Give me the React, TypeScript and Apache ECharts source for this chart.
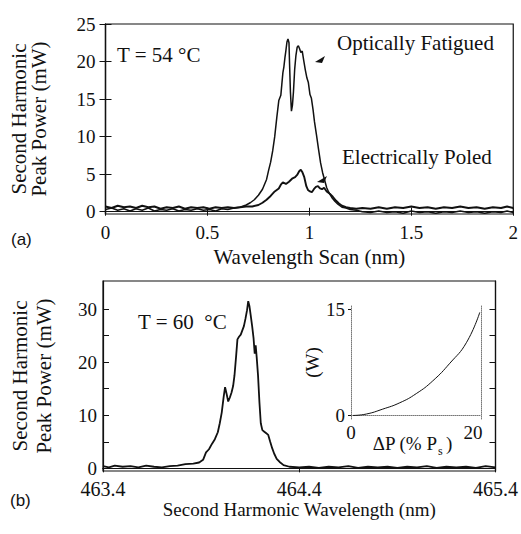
import React, { useEffect, useRef } from "react";
import * as echarts from "echarts";

// ---------- data ----------
const xTicksA = [0, 0.5, 1, 1.5, 2];
const yTicksA = [0, 5, 10, 15, 20, 25];
const xTicksB = [463.4, 464.4, 465.4];
const yLabelsB = [0, 10, 20, 30];
const yTicksB = [0, 5, 10, 15, 20, 25, 30];
const insetXTicks = [0, 20];
const insetYTicks = [0, 15];

const fatiguedData = [
  [0, 0.3], [0.03, 0.5], [0.06, 0.2], [0.09, 0.4], [0.12, 0.1], [0.15, 0.4], [0.18, 0.2], [0.21, 0.5],
  [0.24, 0.1], [0.27, 0.3], [0.3, 0.2], [0.33, 0.4], [0.36, 0.1], [0.39, 0.3], [0.42, 0.2], [0.45, 0.4],
  [0.48, 0.2], [0.51, 0.3], [0.54, 0.1], [0.57, 0.4], [0.6, 0.3], [0.63, 0.5], [0.66, 0.6], [0.69, 0.9],
  [0.71, 1.2], [0.73, 1.6], [0.75, 2.2], [0.77, 3.0], [0.79, 4.3], [0.8, 5.5], [0.81, 6.6], [0.82, 8.1],
  [0.83, 10.0], [0.84, 12.5], [0.85, 14.8], [0.86, 15.5], [0.865, 17.0], [0.87, 18.5], [0.875, 19.3],
  [0.88, 20.5], [0.885, 21.5], [0.89, 22.6], [0.895, 23.0], [0.9, 22.5], [0.903, 19.5], [0.907, 16.0],
  [0.912, 13.4], [0.917, 14.2], [0.922, 16.0], [0.928, 19.0], [0.934, 20.8], [0.94, 21.9], [0.946, 22.1],
  [0.952, 21.7], [0.958, 21.2], [0.965, 21.4], [0.972, 20.2], [0.98, 18.9], [0.988, 17.8], [0.995, 17.2],
  [1.003, 15.6], [1.01, 15.1], [1.018, 13.6], [1.025, 12.0], [1.035, 10.2], [1.045, 8.3], [1.055, 6.5],
  [1.065, 5.2], [1.075, 4.2], [1.085, 3.2], [1.095, 2.6], [1.11, 1.9], [1.125, 1.4], [1.14, 1.0],
  [1.16, 0.6], [1.18, 0.5], [1.2, 0.3], [1.23, 0.2], [1.26, 0.0], [1.3, -0.1], [1.34, 0.1], [1.38, -0.1],
  [1.42, 0.0], [1.46, -0.2], [1.5, 0.1], [1.54, -0.1], [1.58, 0.0], [1.62, -0.2], [1.66, 0.0], [1.7, -0.1],
  [1.74, 0.1], [1.78, -0.1], [1.82, 0.0], [1.86, -0.2], [1.9, 0.0], [1.94, -0.1], [1.97, 0.1], [2, -0.1],
];

const poledData = [
  [0, 0.7], [0.03, 0.5], [0.06, 0.8], [0.09, 0.6], [0.12, 0.7], [0.15, 0.5], [0.18, 0.8], [0.21, 0.6],
  [0.24, 0.7], [0.27, 0.4], [0.3, 0.6], [0.33, 0.5], [0.36, 0.7], [0.39, 0.4], [0.42, 0.6], [0.45, 0.5],
  [0.48, 0.6], [0.51, 0.4], [0.54, 0.6], [0.57, 0.5], [0.6, 0.6], [0.63, 0.5], [0.66, 0.6], [0.69, 0.7],
  [0.72, 0.7], [0.75, 0.9], [0.77, 1.2], [0.79, 1.6], [0.81, 2.1], [0.83, 2.7], [0.85, 3.1], [0.86, 3.6],
  [0.87, 3.9], [0.885, 3.7], [0.9, 4.0], [0.915, 4.4], [0.93, 4.6], [0.94, 4.9], [0.95, 5.4], [0.958, 5.6],
  [0.965, 5.3], [0.975, 4.6], [0.985, 3.4], [0.993, 2.9], [1.003, 2.7], [1.012, 2.6], [1.022, 3.0],
  [1.032, 3.3], [1.042, 3.4], [1.052, 3.1], [1.062, 3.0], [1.072, 3.2], [1.085, 2.7], [1.1, 2.4],
  [1.115, 2.0], [1.13, 1.5], [1.145, 1.1], [1.16, 0.8], [1.18, 0.6], [1.2, 0.5], [1.23, 0.4],
  [1.26, 0.5], [1.3, 0.4], [1.34, 0.6], [1.38, 0.4], [1.42, 0.6], [1.46, 0.5], [1.5, 0.7], [1.54, 0.5],
  [1.58, 0.6], [1.62, 0.4], [1.66, 0.6], [1.7, 0.5], [1.74, 0.7], [1.78, 0.5], [1.82, 0.6], [1.86, 0.4],
  [1.9, 0.6], [1.94, 0.5], [1.97, 0.7], [2, 0.5],
];

const spectrumB = [
  [463.4, 0.4], [463.43, 0.2], [463.46, 0.5], [463.5, 0.3], [463.54, 0.4], [463.58, 0.2], [463.62, 0.5],
  [463.66, 0.3], [463.7, 0.2], [463.74, 0.4], [463.78, 0.5], [463.82, 0.8], [463.86, 0.9], [463.89, 1.1],
  [463.91, 1.6], [463.925, 3.0], [463.94, 3.6], [463.955, 4.6], [463.97, 5.5], [463.985, 6.8],
  [463.995, 8.5], [464.005, 10.5], [464.015, 13.5], [464.022, 15.3], [464.03, 14.0], [464.038, 12.6],
  [464.046, 13.3], [464.055, 14.3], [464.063, 15.5], [464.07, 17.5], [464.078, 21.0], [464.085, 24.3],
  [464.093, 24.8], [464.102, 25.2], [464.11, 26.0], [464.118, 26.8], [464.126, 28.2], [464.134, 29.8],
  [464.14, 31.5], [464.146, 30.6], [464.152, 29.0], [464.16, 26.8], [464.167, 24.6], [464.173, 21.6],
  [464.178, 23.2], [464.183, 21.0], [464.19, 17.5], [464.197, 12.5], [464.204, 8.5], [464.212, 7.2],
  [464.222, 6.9], [464.232, 6.6], [464.242, 6.3], [464.252, 5.0], [464.262, 3.8], [464.272, 2.8],
  [464.285, 1.8], [464.3, 1.2], [464.32, 0.6], [464.35, 0.3], [464.4, 0.2], [464.45, 0.3], [464.5, 0.1],
  [464.55, 0.3], [464.6, 0.2], [464.65, 0.4], [464.7, 0.1], [464.75, 0.3], [464.8, 0.2], [464.85, 0.3],
  [464.9, 0.1], [464.95, 0.3], [465.0, 0.2], [465.05, 0.4], [465.1, 0.1], [465.15, 0.3], [465.2, 0.2],
  [465.25, 0.3], [465.3, 0.1], [465.35, 0.4], [465.4, 0.2],
];

const insetData = [
  [0.3, 0], [2.5, 0.2], [5.2, 0.9], [8, 1.8], [10.7, 3.1], [13.4, 4.9], [16.2, 7.4], [18.9, 10.3], [21.1, 14.6],
];

// ---------- styling helpers ----------
const SERIF = "Liberation Serif";
const SANS = "Liberation Sans";
const INK = "#111";

const frameLine = { show: true, lineStyle: { color: INK, width: 1.2 } };

const txt = (text: string, x: number, y: number, size: number, family: string, align = "left") => ({
  type: "text",
  x,
  y,
  style: { text, fontSize: size, fontFamily: family, fill: INK, align, verticalAlign: "middle" },
});

export default function App() {
  const ref = useRef<HTMLDivElement>(null);

  useEffect(() => {
    if (!ref.current) return;
    const chart = echarts.init(ref.current, undefined, { renderer: "svg" });

    const option = {
      animation: false,
      backgroundColor: "#fff",
      textStyle: { fontFamily: SERIF, color: INK },
      grid: [
        { left: 104, top: 24, width: 413, height: 190, show: true, borderColor: INK, borderWidth: 1.2 },
        { left: 99, top: 281, width: 408, height: 190, show: true, borderColor: INK, borderWidth: 1.2 },
        { left: 351, top: 306, width: 130, height: 113, show: false },
      ],
      xAxis: [
        {
          gridIndex: 0, type: "value", min: 0, max: 2, position: "bottom",
          axisLine: frameLine,
          axisTick: { inside: true, length: 4, customValues: xTicksA, lineStyle: { color: INK } },
          axisLabel: { customValues: xTicksA, fontSize: 19, fontFamily: SERIF, color: INK, margin: 9, formatter: (v: number) => String(v) },
          splitLine: { show: false },
          name: "Wavelength Scan (nm)", nameLocation: "middle", nameGap: 32,
          nameTextStyle: { fontSize: 21, fontFamily: SERIF, color: INK },
        },
        {
          gridIndex: 0, type: "value", min: 0, max: 2, position: "top",
          axisLine: frameLine,
          axisTick: { inside: true, length: 4, customValues: xTicksA, lineStyle: { color: INK } },
          axisLabel: { show: false }, splitLine: { show: false },
        },
        {
          gridIndex: 1, type: "value", min: 463.4, max: 465.4, position: "bottom",
          axisLine: frameLine,
          axisTick: { show: false },
          axisLabel: { customValues: xTicksB, fontSize: 20, fontFamily: SERIF, color: INK, margin: 8, formatter: (v: number) => v.toFixed(1) },
          splitLine: { show: false },
          name: "Second Harmonic Wavelength (nm)", nameLocation: "middle", nameGap: 22,
          nameTextStyle: { fontSize: 19, fontFamily: SERIF, color: INK },
        },
        {
          gridIndex: 1, type: "value", min: 463.4, max: 465.4, position: "top",
          axisLine: frameLine,
          axisTick: { inside: true, length: 4, customValues: xTicksB, lineStyle: { color: INK } },
          axisLabel: { show: false }, splitLine: { show: false },
        },
        {
          gridIndex: 2, type: "value", min: 0, max: 21.3, position: "bottom",
          axisLine: { show: true, lineStyle: { color: "#777", width: 1, type: "dotted" } },
          axisTick: { show: false },
          axisLabel: { customValues: insetXTicks, fontSize: 19, fontFamily: SERIF, color: INK, margin: 4 },
          splitLine: { show: false },
        },
      ],
      yAxis: [
        {
          gridIndex: 0, type: "value", min: -0.3, max: 25, position: "left",
          axisLine: frameLine,
          axisTick: { inside: true, length: 6, customValues: yTicksA, lineStyle: { color: INK } },
          axisLabel: { customValues: yTicksA, fontSize: 19, fontFamily: SERIF, color: INK, margin: 10 },
          splitLine: { show: false },
          name: "Second Harmonic\nPeak Power (mW)", nameLocation: "middle", nameRotate: 90, nameGap: 57,
          nameTextStyle: { fontSize: 21, lineHeight: 20, fontFamily: SERIF, color: INK, align: "center" },
        },
        {
          gridIndex: 0, type: "value", min: -0.3, max: 25, position: "right",
          axisLine: frameLine,
          axisTick: { inside: true, length: 6, customValues: yTicksA, lineStyle: { color: INK } },
          axisLabel: { show: false }, splitLine: { show: false },
        },
        {
          gridIndex: 1, type: "value", min: -0.5, max: 35.3, position: "left",
          axisLine: frameLine,
          axisTick: { inside: true, length: 6, customValues: yTicksB, lineStyle: { color: INK } },
          axisLabel: { customValues: yLabelsB, fontSize: 19, fontFamily: SERIF, color: INK, margin: 6 },
          splitLine: { show: false },
          name: "Second Harmonic\nPeak Power (mW)", nameLocation: "middle", nameRotate: 90, nameGap: 47,
          nameTextStyle: { fontSize: 21, lineHeight: 24, fontFamily: SERIF, color: INK, align: "center" },
        },
        {
          gridIndex: 1, type: "value", min: -0.5, max: 35.3, position: "right",
          axisLine: frameLine,
          axisTick: { inside: true, length: 6, customValues: yTicksB, lineStyle: { color: INK } },
          axisLabel: { show: false }, splitLine: { show: false },
        },
        {
          gridIndex: 2, type: "value", min: -0.5, max: 15.5, position: "left",
          axisLine: { show: true, lineStyle: { color: "#777", width: 1, type: "dotted" } },
          axisTick: { show: true, inside: false, length: 3, customValues: insetYTicks, lineStyle: { color: INK } },
          axisLabel: { customValues: insetYTicks, fontSize: 19, fontFamily: SERIF, color: INK, margin: 6 },
          splitLine: { show: false },
          name: "(W)", nameLocation: "middle", nameRotate: 90, nameGap: 9,
          nameTextStyle: { fontSize: 19, fontFamily: SERIF, color: INK },
        },
        {
          gridIndex: 2, type: "value", min: -0.5, max: 15.5, position: "right",
          axisLine: { show: true, lineStyle: { color: "#777", width: 1, type: "dotted" } },
          axisTick: { show: false }, axisLabel: { show: false }, splitLine: { show: false },
        },
      ],
      series: [
        {
          name: "Optically Fatigued", type: "line", xAxisIndex: 0, yAxisIndex: 0,
          data: fatiguedData, showSymbol: false, clip: false,
          lineStyle: { color: INK, width: 1.5 },
        },
        {
          name: "Electrically Poled", type: "line", xAxisIndex: 0, yAxisIndex: 0,
          data: poledData, showSymbol: false, clip: false,
          lineStyle: { color: INK, width: 1.9 },
        },
        {
          name: "Spectrum (b)", type: "line", xAxisIndex: 2, yAxisIndex: 2,
          data: spectrumB, showSymbol: false, clip: false,
          lineStyle: { color: INK, width: 1.8 },
        },
        {
          name: "Inset", type: "line", xAxisIndex: 4, yAxisIndex: 4,
          data: insetData, showSymbol: false, smooth: true,
          lineStyle: { color: INK, width: 1 },
        },
      ],
      graphic: [
        txt("T = 54 °C", 117, 55, 21, SERIF),
        txt("Optically Fatigued", 337, 43, 21, SERIF),
        txt("Electrically Poled", 342, 157, 21, SERIF),
        txt("T = 60  °C", 138, 322, 21, SERIF),
        txt("(a)", 11, 239, 17, SANS),
        txt("(b)", 10, 500, 17, SANS),
        txt("ΔP (% P", 437, 443, 19, SERIF, "right"),
        txt("s", 438, 451, 12, SERIF),
        txt(")", 446, 443, 19, SERIF),
        { type: "polygon", shape: { points: [[315, 62], [325, 56], [322, 63]] }, style: { fill: INK } },
        { type: "polygon", shape: { points: [[317, 182], [327, 176], [324, 183]] }, style: { fill: INK } },
      ],
    };

    chart.setOption(option as any);
    return () => chart.dispose();
  }, []);

  return (
    <div
      ref={ref}
      style={{ position: "fixed", left: 0, top: 0, width: 521, height: 534, background: "#fff" }}
    />
  );
}
